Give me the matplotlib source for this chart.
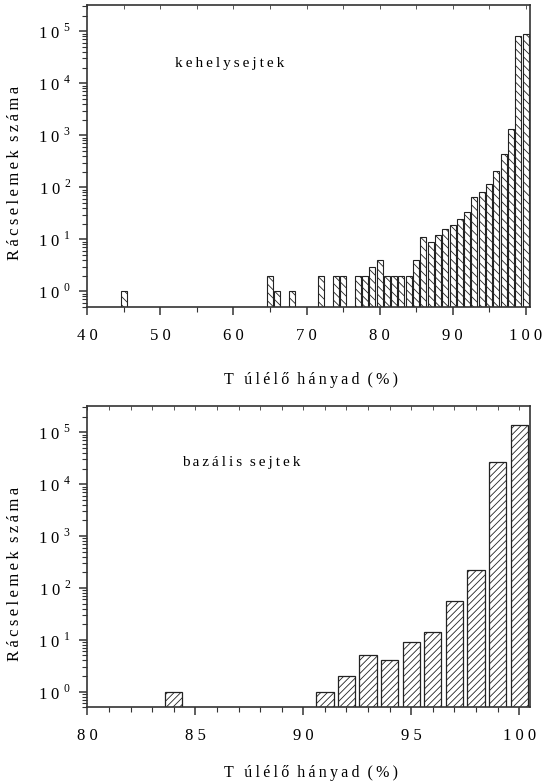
import numpy as np
import matplotlib.pyplot as plt
from matplotlib.ticker import FixedLocator, FuncFormatter, LogLocator, NullFormatter

plt.rcParams['font.family'] = ['Liberation Serif', 'DejaVu Serif']
plt.rcParams['mathtext.fontset'] = 'custom'
plt.rcParams['mathtext.rm'] = 'Liberation Serif'
plt.rcParams['hatch.linewidth'] = 0.6

# kehelysejtek (goblet cells)
top_x = [45, 65, 66, 68, 72, 74, 75, 77, 78, 79, 80, 81, 82, 83, 84, 85,
         86, 87, 88, 89, 90, 91, 92, 93, 94, 95, 96, 97, 98, 99, 100]
top_n = [1, 2, 1, 1, 2, 2, 2, 2, 2, 3, 4, 2, 2, 2, 2, 4,
         11, 9, 12, 16, 19, 25, 33, 65, 83, 114, 205, 430, 1320, 80000, 87000]

# bazális sejtek (basal cells)
bot_x = [84, 91, 92, 93, 94, 95, 96, 97, 98, 99, 100]
bot_n = [1, 1, 2, 5, 4, 9, 14, 57, 222, 27000, 135000]

top_ticks = [40, 50, 60, 70, 80, 90, 100]
bot_ticks = [80, 85, 90, 95, 100]

THIN = '\u2009'


def spaced(s, sep=THIN):
    # letter-spaced text like the original figure
    return sep.join(s)


def ylab(v, pos):
    e = int(round(np.log10(v)))
    return r'$\mathrm{1\;0}^{\,\,%d}$' % e


def style_axes(ax, xmin, xmax, major, minor):
    ax.set_yscale('log')
    ax.set_ylim(0.5, 3.2e5)
    ax.set_xlim(xmin, xmax)
    ax.xaxis.set_major_locator(FixedLocator(major))
    ax.xaxis.set_minor_locator(FixedLocator(minor))
    ax.xaxis.set_major_formatter(FuncFormatter(lambda v, p: spaced('%d' % v, ' ')))
    ax.yaxis.set_major_locator(LogLocator(base=10, numticks=10))
    ax.yaxis.set_minor_locator(LogLocator(base=10, subs=np.arange(2, 10), numticks=10))
    ax.yaxis.set_major_formatter(FuncFormatter(ylab))
    ax.yaxis.set_minor_formatter(NullFormatter())
    ax.tick_params(which='major', direction='out', length=6, width=1.1,
                   labelsize=12, color='#333333')
    ax.tick_params(which='minor', direction='out', length=3.5, width=0.8,
                   color='#333333')
    ax.tick_params(axis='y', which='major', pad=6)
    ax.tick_params(axis='x', which='major', pad=9)
    for s in ax.spines.values():
        s.set_linewidth(1.2)
        s.set_color('#333333')
    # small inward marks along the top spine
    sec = ax.secondary_xaxis('top')
    sec.xaxis.set_major_locator(FixedLocator(minor + major))
    sec.tick_params(direction='in', length=3, width=0.7, labeltop=False,
                    color='#555555')
    sec.spines['top'].set_visible(False)


fig = plt.figure(figsize=(5.43, 7.84), dpi=100)

ax1 = fig.add_axes([0.161, 0.6084, 0.815, 0.3852])
ax1.bar(top_x, top_n, width=0.82, bottom=0, color='white', edgecolor='#222222',
        linewidth=0.8, hatch='\\\\\\\\')
style_axes(ax1, 40, 100.6, top_ticks, [45, 55, 65, 75, 85, 95])
ax1.text(0.198, 0.808, spaced('kehelysejtek'), transform=ax1.transAxes,
         fontsize=11, va='center', ha='left')

ax2 = fig.add_axes([0.161, 0.0978, 0.815, 0.3843])
ax2.bar(bot_x, bot_n, width=0.8, bottom=0, color='white', edgecolor='#222222',
        linewidth=0.9, hatch='/////')
style_axes(ax2, 80, 100.5, bot_ticks, [v for v in range(81, 100) if v % 5])
ax2.text(0.214, 0.814, spaced('bazális') + '  ' + spaced('sejtek'),
         transform=ax2.transAxes, fontsize=11, va='center', ha='left')

xl = spaced('T úlélő') + '  ' + spaced('hányad') + '  ' + spaced('(%)')
yl = spaced('Rácselemek') + '  ' + spaced('száma')
fig.text(0.573, 0.515, xl, fontsize=11.5, ha='center', va='center')
fig.text(0.573, 0.014, xl, fontsize=11.5, ha='center', va='center')
fig.text(0.028, 0.779, yl, fontsize=12, ha='center', va='center', rotation=90)
fig.text(0.028, 0.268, yl, fontsize=12, ha='center', va='center', rotation=90)

fig.savefig('out.png', dpi=100)
